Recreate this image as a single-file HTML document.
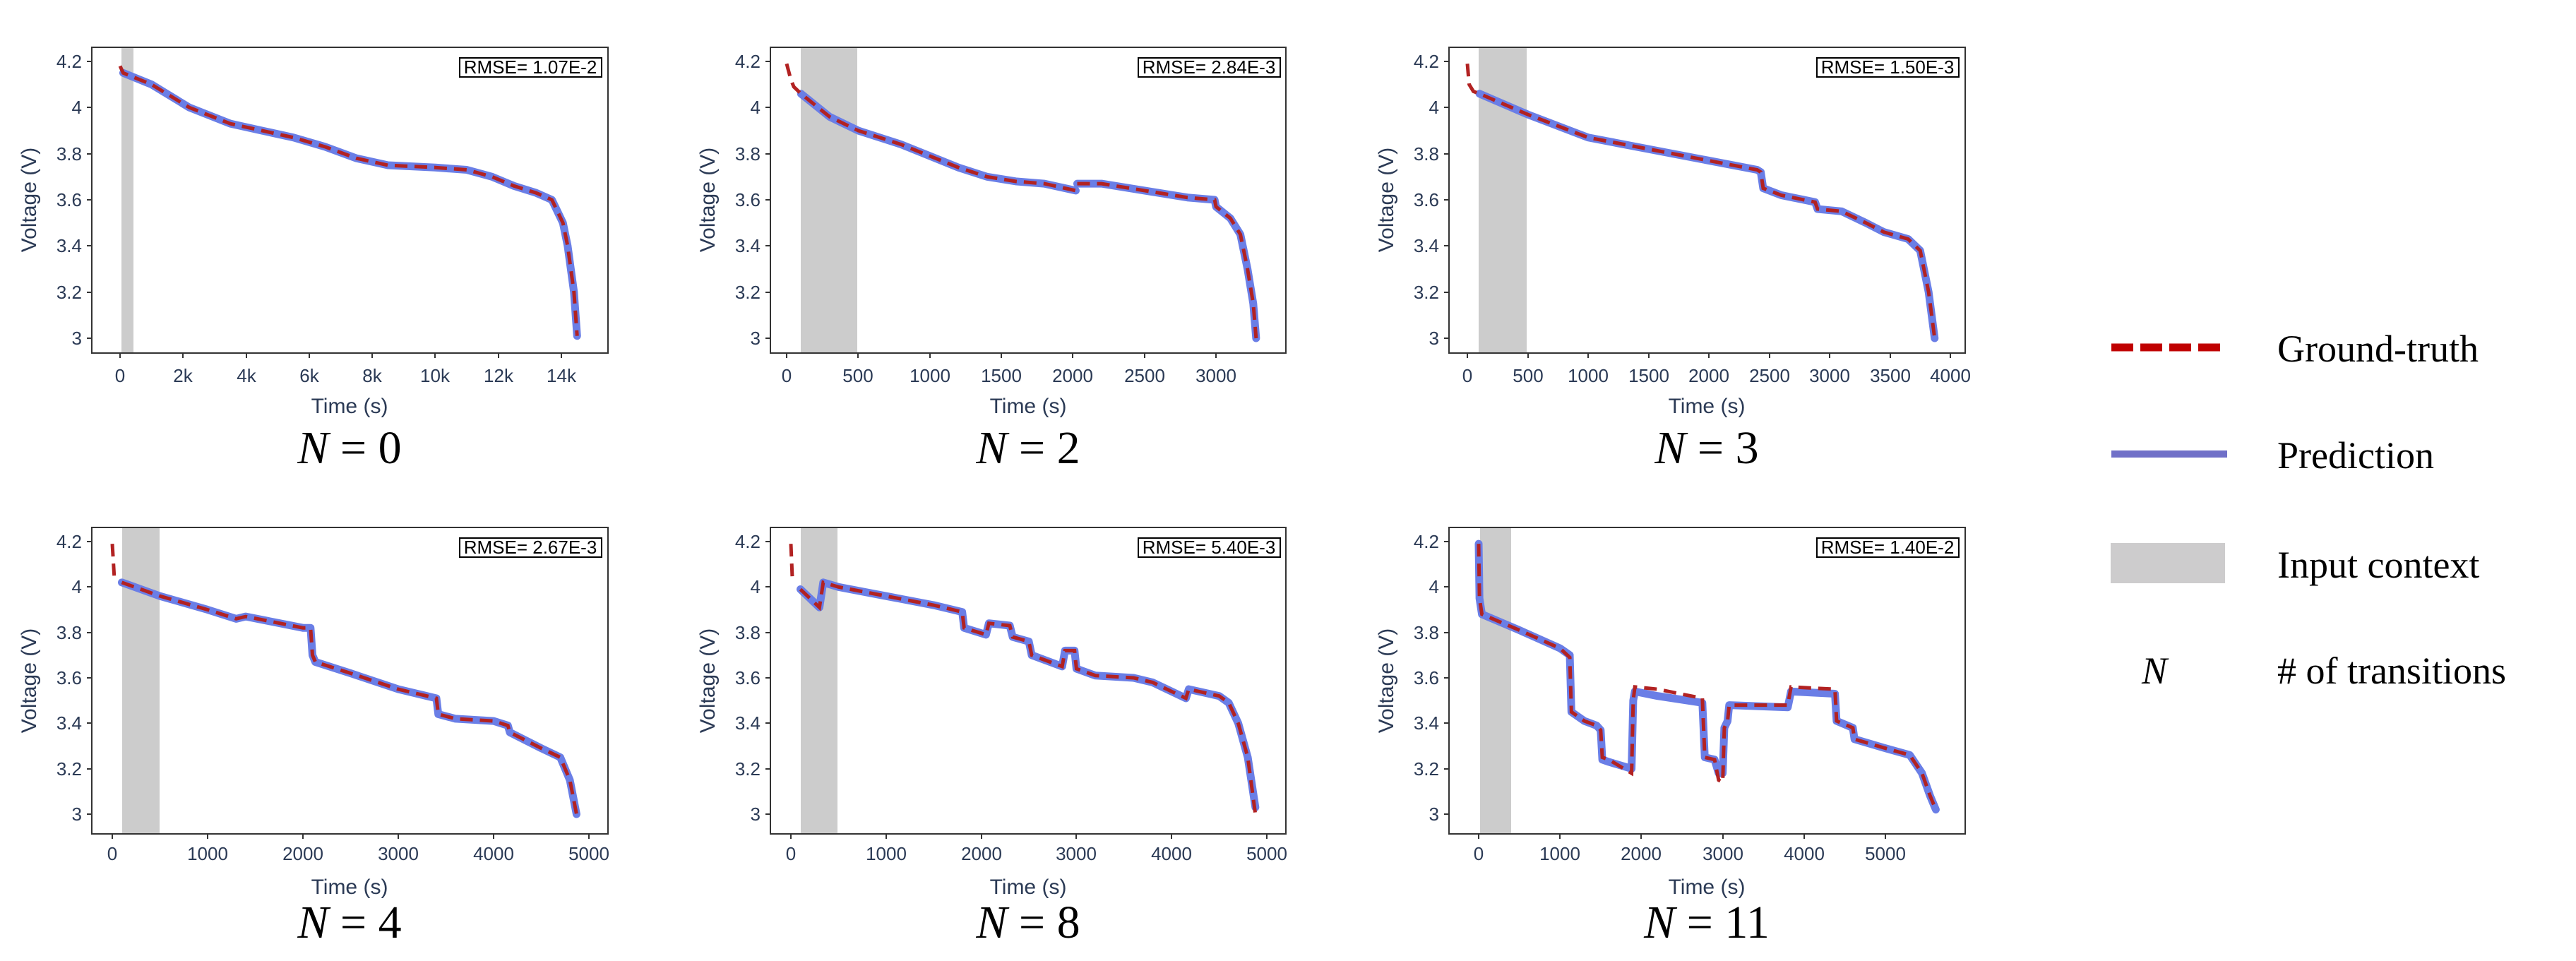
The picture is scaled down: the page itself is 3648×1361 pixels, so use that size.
<!DOCTYPE html>
<html><head><meta charset="utf-8"><style>
html,body{margin:0;padding:0;background:#fff;}
svg{display:block;}
.tk{font-family:"Liberation Sans",sans-serif;font-size:26px;fill:#2b3a55;}
.ax{font-family:"Liberation Sans",sans-serif;font-size:30px;fill:#2b3a55;}
.rm{font-family:"Liberation Sans",sans-serif;font-size:26px;fill:#000;}
.nn{font-family:"Liberation Serif",serif;font-size:66px;fill:#000;}
.lg{font-family:"Liberation Serif",serif;font-size:54px;fill:#000;}
.bl{fill:none;stroke:#6a7ee6;stroke-width:11;stroke-linejoin:round;stroke-linecap:round;vector-effect:non-scaling-stroke;}
.rd{fill:none;stroke:#b22222;stroke-width:5;stroke-dasharray:18 10;vector-effect:non-scaling-stroke;}
</style></head><body>
<svg width="3648" height="1361" viewBox="0 0 3648 1361" xmlns="http://www.w3.org/2000/svg">
<!-- ============ PANEL 1 ============ -->
<g>
<rect x="172" y="67" width="17" height="433" fill="#cccccc"/>
<g transform="translate(170,1459.1) scale(0.04464,-326.7)">
<polyline class="bl" points="100,4.15 1000,4.1 2200,4.0 3500,3.93 4500,3.9 5500,3.87 6500,3.83 7500,3.78 8500,3.75 10000,3.74 11000,3.73 11800,3.7 12500,3.66 13200,3.63 13700,3.6 14050,3.5 14200,3.4 14400,3.2 14500,3.01"/>
<polyline class="rd" points="0,4.18 100,4.15 1000,4.1 2200,4.0 3500,3.93 4500,3.9 5500,3.87 6500,3.83 7500,3.78 8500,3.75 10000,3.74 11000,3.73 11800,3.7 12500,3.66 13200,3.63 13700,3.6 14050,3.5 14200,3.4 14400,3.2 14500,3.01"/>
</g>
<rect x="130" y="67" width="731" height="433" fill="none" stroke="#333" stroke-width="2"/>
<g stroke="#333" stroke-width="2">
<line x1="123" y1="87" x2="130" y2="87"/><line x1="123" y1="152" x2="130" y2="152"/><line x1="123" y1="218" x2="130" y2="218"/><line x1="123" y1="283" x2="130" y2="283"/><line x1="123" y1="348" x2="130" y2="348"/><line x1="123" y1="414" x2="130" y2="414"/><line x1="123" y1="479" x2="130" y2="479"/>
<line x1="170" y1="500" x2="170" y2="507"/><line x1="259" y1="500" x2="259" y2="507"/><line x1="349" y1="500" x2="349" y2="507"/><line x1="438" y1="500" x2="438" y2="507"/><line x1="527" y1="500" x2="527" y2="507"/><line x1="616" y1="500" x2="616" y2="507"/><line x1="706" y1="500" x2="706" y2="507"/><line x1="795" y1="500" x2="795" y2="507"/>
</g>
<g class="tk" text-anchor="end"><text x="116" y="96">4.2</text><text x="116" y="161">4</text><text x="116" y="227">3.8</text><text x="116" y="292">3.6</text><text x="116" y="357">3.4</text><text x="116" y="423">3.2</text><text x="116" y="488">3</text></g>
<g class="tk" text-anchor="middle"><text x="170" y="541">0</text><text x="259" y="541">2k</text><text x="349" y="541">4k</text><text x="438" y="541">6k</text><text x="527" y="541">8k</text><text x="616" y="541">10k</text><text x="706" y="541">12k</text><text x="795" y="541">14k</text></g>
<text class="ax" x="495" y="585" text-anchor="middle">Time (s)</text>
<text class="ax" transform="translate(51,283) rotate(-90)" text-anchor="middle">Voltage (V)</text>
<rect x="651" y="82" width="201" height="27" fill="#fff" stroke="#000" stroke-width="2"/>
<text class="rm" x="751" y="104" text-anchor="middle">RMSE= 1.07E-2</text>
<text class="nn" x="495" y="656" text-anchor="middle"><tspan font-style="italic">N</tspan> = 0</text>
</g>
<!-- ============ PANEL 2 ============ -->
<g>
<rect x="1134" y="67" width="80" height="433" fill="#cccccc"/>
<g transform="translate(1114,1459.1) scale(0.2027,-326.7)">
<polyline class="bl" points="100,4.06 300,3.96 500,3.9 800,3.84 1000,3.79 1200,3.74 1400,3.70 1600,3.68 1800,3.67 2020,3.64"/>
<polyline class="bl" points="2030,3.67 2200,3.67 2500,3.64 2800,3.61 2990,3.6 3000,3.57 3100,3.52 3170,3.45 3220,3.3 3260,3.15 3280,3.0"/>
<polyline class="rd" points="0,4.19 30,4.12 50,4.09 100,4.06 300,3.96 500,3.9 800,3.84 1000,3.79 1200,3.74 1400,3.70 1600,3.68 1800,3.67 2020,3.64"/>
<polyline class="rd" points="2030,3.67 2200,3.67 2500,3.64 2800,3.61 2990,3.6 3000,3.57 3100,3.52 3170,3.45 3220,3.3 3260,3.15 3280,3.0"/>
</g>
<rect x="1091" y="67" width="730" height="433" fill="none" stroke="#333" stroke-width="2"/>
<g stroke="#333" stroke-width="2">
<line x1="1084" y1="87" x2="1091" y2="87"/><line x1="1084" y1="152" x2="1091" y2="152"/><line x1="1084" y1="218" x2="1091" y2="218"/><line x1="1084" y1="283" x2="1091" y2="283"/><line x1="1084" y1="348" x2="1091" y2="348"/><line x1="1084" y1="414" x2="1091" y2="414"/><line x1="1084" y1="479" x2="1091" y2="479"/>
<line x1="1114" y1="500" x2="1114" y2="507"/><line x1="1215" y1="500" x2="1215" y2="507"/><line x1="1317" y1="500" x2="1317" y2="507"/><line x1="1418" y1="500" x2="1418" y2="507"/><line x1="1519" y1="500" x2="1519" y2="507"/><line x1="1621" y1="500" x2="1621" y2="507"/><line x1="1722" y1="500" x2="1722" y2="507"/>
</g>
<g class="tk" text-anchor="end"><text x="1077" y="96">4.2</text><text x="1077" y="161">4</text><text x="1077" y="227">3.8</text><text x="1077" y="292">3.6</text><text x="1077" y="357">3.4</text><text x="1077" y="423">3.2</text><text x="1077" y="488">3</text></g>
<g class="tk" text-anchor="middle"><text x="1114" y="541">0</text><text x="1215" y="541">500</text><text x="1317" y="541">1000</text><text x="1418" y="541">1500</text><text x="1519" y="541">2000</text><text x="1621" y="541">2500</text><text x="1722" y="541">3000</text></g>
<text class="ax" x="1456" y="585" text-anchor="middle">Time (s)</text>
<text class="ax" transform="translate(1012,283) rotate(-90)" text-anchor="middle">Voltage (V)</text>
<rect x="1612" y="82" width="201" height="27" fill="#fff" stroke="#000" stroke-width="2"/>
<text class="rm" x="1712" y="104" text-anchor="middle">RMSE= 2.84E-3</text>
<text class="nn" x="1456" y="656" text-anchor="middle"><tspan font-style="italic">N</tspan> = 2</text>
</g>
<!-- ============ PANEL 3 ============ -->
<g>
<rect x="2094" y="67" width="68" height="433" fill="#cccccc"/>
<g transform="translate(2078,1459.1) scale(0.171,-326.7)">
<polyline class="bl" points="100,4.06 500,3.97 1000,3.87 1500,3.82 2000,3.77 2400,3.73 2430,3.72 2450,3.65 2600,3.62 2880,3.59 2900,3.56 3100,3.55 3300,3.50 3450,3.46 3650,3.43 3750,3.38 3820,3.2 3870,3.0"/>
<polyline class="rd" points="0,4.19 15,4.1 50,4.07 100,4.06 500,3.97 1000,3.87 1500,3.82 2000,3.77 2400,3.73 2430,3.72 2450,3.65 2600,3.62 2880,3.59 2900,3.56 3100,3.55 3300,3.50 3450,3.46 3650,3.43 3750,3.38 3820,3.2 3870,3.0"/>
</g>
<rect x="2052" y="67" width="731" height="433" fill="none" stroke="#333" stroke-width="2"/>
<g stroke="#333" stroke-width="2">
<line x1="2045" y1="87" x2="2052" y2="87"/><line x1="2045" y1="152" x2="2052" y2="152"/><line x1="2045" y1="218" x2="2052" y2="218"/><line x1="2045" y1="283" x2="2052" y2="283"/><line x1="2045" y1="348" x2="2052" y2="348"/><line x1="2045" y1="414" x2="2052" y2="414"/><line x1="2045" y1="479" x2="2052" y2="479"/>
<line x1="2078" y1="500" x2="2078" y2="507"/><line x1="2164" y1="500" x2="2164" y2="507"/><line x1="2249" y1="500" x2="2249" y2="507"/><line x1="2335" y1="500" x2="2335" y2="507"/><line x1="2420" y1="500" x2="2420" y2="507"/><line x1="2506" y1="500" x2="2506" y2="507"/><line x1="2591" y1="500" x2="2591" y2="507"/><line x1="2677" y1="500" x2="2677" y2="507"/><line x1="2762" y1="500" x2="2762" y2="507"/>
</g>
<g class="tk" text-anchor="end"><text x="2038" y="96">4.2</text><text x="2038" y="161">4</text><text x="2038" y="227">3.8</text><text x="2038" y="292">3.6</text><text x="2038" y="357">3.4</text><text x="2038" y="423">3.2</text><text x="2038" y="488">3</text></g>
<g class="tk" text-anchor="middle"><text x="2078" y="541">0</text><text x="2164" y="541">500</text><text x="2249" y="541">1000</text><text x="2335" y="541">1500</text><text x="2420" y="541">2000</text><text x="2506" y="541">2500</text><text x="2591" y="541">3000</text><text x="2677" y="541">3500</text><text x="2762" y="541">4000</text></g>
<text class="ax" x="2417" y="585" text-anchor="middle">Time (s)</text>
<text class="ax" transform="translate(1973,283) rotate(-90)" text-anchor="middle">Voltage (V)</text>
<rect x="2573" y="82" width="201" height="27" fill="#fff" stroke="#000" stroke-width="2"/>
<text class="rm" x="2673" y="104" text-anchor="middle">RMSE= 1.50E-3</text>
<text class="nn" x="2417" y="656" text-anchor="middle"><tspan font-style="italic">N</tspan> = 3</text>
</g>
<!-- ============ PANEL 4 ============ -->
<g>
<rect x="173" y="747" width="53" height="434" fill="#cccccc"/>
<g transform="translate(159,2118.1) scale(0.135,-321.7)">
<polyline class="bl" points="100,4.02 500,3.96 1000,3.90 1300,3.86 1400,3.87 2000,3.82 2080,3.82 2100,3.70 2130,3.67 2500,3.62 3000,3.55 3300,3.52 3400,3.51 3420,3.44 3600,3.42 4000,3.41 4150,3.39 4170,3.36 4500,3.29 4700,3.25 4800,3.15 4870,3.0"/>
<polyline class="rd" points="0,4.19 20,4.05"/>
<polyline class="rd" points="100,4.02 500,3.96 1000,3.90 1300,3.86 1400,3.87 2000,3.82 2080,3.82 2100,3.70 2130,3.67 2500,3.62 3000,3.55 3300,3.52 3400,3.51 3420,3.44 3600,3.42 4000,3.41 4150,3.39 4170,3.36 4500,3.29 4700,3.25 4800,3.15 4870,3.0"/>
</g>
<rect x="130" y="747" width="731" height="434" fill="none" stroke="#333" stroke-width="2"/>
<g stroke="#333" stroke-width="2">
<line x1="123" y1="767" x2="130" y2="767"/><line x1="123" y1="831" x2="130" y2="831"/><line x1="123" y1="896" x2="130" y2="896"/><line x1="123" y1="960" x2="130" y2="960"/><line x1="123" y1="1024" x2="130" y2="1024"/><line x1="123" y1="1089" x2="130" y2="1089"/><line x1="123" y1="1153" x2="130" y2="1153"/>
<line x1="159" y1="1181" x2="159" y2="1188"/><line x1="294" y1="1181" x2="294" y2="1188"/><line x1="429" y1="1181" x2="429" y2="1188"/><line x1="564" y1="1181" x2="564" y2="1188"/><line x1="699" y1="1181" x2="699" y2="1188"/><line x1="834" y1="1181" x2="834" y2="1188"/>
</g>
<g class="tk" text-anchor="end"><text x="116" y="776">4.2</text><text x="116" y="840">4</text><text x="116" y="905">3.8</text><text x="116" y="969">3.6</text><text x="116" y="1033">3.4</text><text x="116" y="1098">3.2</text><text x="116" y="1162">3</text></g>
<g class="tk" text-anchor="middle"><text x="159" y="1218">0</text><text x="294" y="1218">1000</text><text x="429" y="1218">2000</text><text x="564" y="1218">3000</text><text x="699" y="1218">4000</text><text x="834" y="1218">5000</text></g>
<text class="ax" x="495" y="1266" text-anchor="middle">Time (s)</text>
<text class="ax" transform="translate(51,964) rotate(-90)" text-anchor="middle">Voltage (V)</text>
<rect x="651" y="762" width="201" height="27" fill="#fff" stroke="#000" stroke-width="2"/>
<text class="rm" x="751" y="784" text-anchor="middle">RMSE= 2.67E-3</text>
<text class="nn" x="495" y="1328" text-anchor="middle"><tspan font-style="italic">N</tspan> = 4</text>
</g>
<!-- ============ PANEL 5 ============ -->
<g>
<rect x="1134" y="747" width="52" height="434" fill="#cccccc"/>
<g transform="translate(1120,2118.1) scale(0.1348,-321.7)">
<polyline class="bl" points="100,3.99 300,3.91 340,4.02 500,4.0 1000,3.96 1500,3.92 1800,3.89 1820,3.82 2050,3.79 2080,3.84 2300,3.83 2330,3.78 2500,3.76 2530,3.70 2850,3.65 2880,3.72 2980,3.72 3000,3.64 3200,3.61 3600,3.60 3800,3.58 4150,3.51 4180,3.55 4500,3.52 4600,3.49 4700,3.4 4800,3.25 4880,3.03"/>
<polyline class="rd" points="0,4.19 15,4.04"/>
<polyline class="rd" points="100,3.99 300,3.91 340,4.02 500,4.0 1000,3.96 1500,3.92 1800,3.89 1820,3.82 2050,3.79 2080,3.84 2300,3.83 2330,3.78 2500,3.76 2530,3.70 2850,3.65 2880,3.72 2980,3.72 3000,3.64 3200,3.61 3600,3.60 3800,3.58 4150,3.51 4180,3.55 4500,3.52 4600,3.49 4700,3.4 4800,3.25 4880,3.0"/>
</g>
<rect x="1091" y="747" width="730" height="434" fill="none" stroke="#333" stroke-width="2"/>
<g stroke="#333" stroke-width="2">
<line x1="1084" y1="767" x2="1091" y2="767"/><line x1="1084" y1="831" x2="1091" y2="831"/><line x1="1084" y1="896" x2="1091" y2="896"/><line x1="1084" y1="960" x2="1091" y2="960"/><line x1="1084" y1="1024" x2="1091" y2="1024"/><line x1="1084" y1="1089" x2="1091" y2="1089"/><line x1="1084" y1="1153" x2="1091" y2="1153"/>
<line x1="1120" y1="1181" x2="1120" y2="1188"/><line x1="1255" y1="1181" x2="1255" y2="1188"/><line x1="1390" y1="1181" x2="1390" y2="1188"/><line x1="1524" y1="1181" x2="1524" y2="1188"/><line x1="1659" y1="1181" x2="1659" y2="1188"/><line x1="1794" y1="1181" x2="1794" y2="1188"/>
</g>
<g class="tk" text-anchor="end"><text x="1077" y="776">4.2</text><text x="1077" y="840">4</text><text x="1077" y="905">3.8</text><text x="1077" y="969">3.6</text><text x="1077" y="1033">3.4</text><text x="1077" y="1098">3.2</text><text x="1077" y="1162">3</text></g>
<g class="tk" text-anchor="middle"><text x="1120" y="1218">0</text><text x="1255" y="1218">1000</text><text x="1390" y="1218">2000</text><text x="1524" y="1218">3000</text><text x="1659" y="1218">4000</text><text x="1794" y="1218">5000</text></g>
<text class="ax" x="1456" y="1266" text-anchor="middle">Time (s)</text>
<text class="ax" transform="translate(1012,964) rotate(-90)" text-anchor="middle">Voltage (V)</text>
<rect x="1612" y="762" width="201" height="27" fill="#fff" stroke="#000" stroke-width="2"/>
<text class="rm" x="1712" y="784" text-anchor="middle">RMSE= 5.40E-3</text>
<text class="nn" x="1456" y="1328" text-anchor="middle"><tspan font-style="italic">N</tspan> = 8</text>
</g>
<!-- ============ PANEL 6 ============ -->
<g>
<rect x="2096" y="747" width="44" height="434" fill="#cccccc"/>
<g transform="translate(2094,2118.1) scale(0.1152,-321.7)">
<polyline class="bl" points="0,4.19 10,3.95 40,3.88 500,3.81 1000,3.73 1120,3.70 1140,3.45 1300,3.41 1450,3.39 1500,3.37 1520,3.24 1600,3.23 1880,3.20 1900,3.5 1920,3.54 2200,3.52 2750,3.49 2780,3.25 2900,3.24 2950,3.18 3000,3.18 3020,3.38 3060,3.41 3080,3.48 3800,3.47 3840,3.54 4380,3.53 4400,3.41 4600,3.38 4620,3.33 5000,3.29 5300,3.26 5450,3.18 5550,3.08 5620,3.02"/>
<polyline class="rd" points="0,4.19 10,3.95 40,3.88 500,3.81 1000,3.73 1120,3.69 1140,3.45 1300,3.41 1450,3.39 1500,3.37 1520,3.25 1600,3.24 1880,3.18 1900,3.5 1920,3.56 2200,3.55 2750,3.51 2780,3.25 2900,3.24 2950,3.15 3000,3.14 3020,3.38 3060,3.41 3080,3.48 3800,3.48 3840,3.56 4380,3.55 4400,3.41 4600,3.38 4620,3.33 5000,3.29 5300,3.26 5450,3.18 5550,3.08 5620,3.02"/>
</g>
<rect x="2052" y="747" width="731" height="434" fill="none" stroke="#333" stroke-width="2"/>
<g stroke="#333" stroke-width="2">
<line x1="2045" y1="767" x2="2052" y2="767"/><line x1="2045" y1="831" x2="2052" y2="831"/><line x1="2045" y1="896" x2="2052" y2="896"/><line x1="2045" y1="960" x2="2052" y2="960"/><line x1="2045" y1="1024" x2="2052" y2="1024"/><line x1="2045" y1="1089" x2="2052" y2="1089"/><line x1="2045" y1="1153" x2="2052" y2="1153"/>
<line x1="2094" y1="1181" x2="2094" y2="1188"/><line x1="2209" y1="1181" x2="2209" y2="1188"/><line x1="2324" y1="1181" x2="2324" y2="1188"/><line x1="2440" y1="1181" x2="2440" y2="1188"/><line x1="2555" y1="1181" x2="2555" y2="1188"/><line x1="2670" y1="1181" x2="2670" y2="1188"/>
</g>
<g class="tk" text-anchor="end"><text x="2038" y="776">4.2</text><text x="2038" y="840">4</text><text x="2038" y="905">3.8</text><text x="2038" y="969">3.6</text><text x="2038" y="1033">3.4</text><text x="2038" y="1098">3.2</text><text x="2038" y="1162">3</text></g>
<g class="tk" text-anchor="middle"><text x="2094" y="1218">0</text><text x="2209" y="1218">1000</text><text x="2324" y="1218">2000</text><text x="2440" y="1218">3000</text><text x="2555" y="1218">4000</text><text x="2670" y="1218">5000</text></g>
<text class="ax" x="2417" y="1266" text-anchor="middle">Time (s)</text>
<text class="ax" transform="translate(1973,964) rotate(-90)" text-anchor="middle">Voltage (V)</text>
<rect x="2573" y="762" width="201" height="27" fill="#fff" stroke="#000" stroke-width="2"/>
<text class="rm" x="2673" y="784" text-anchor="middle">RMSE= 1.40E-2</text>
<text class="nn" x="2417" y="1328" text-anchor="middle"><tspan font-style="italic">N</tspan> = 11</text>
</g>
<!-- ============ LEGEND ============ -->
<g>
<line x1="2990" y1="492" x2="3150" y2="492" stroke="#c00000" stroke-width="11" stroke-dasharray="31 10"/>
<text class="lg" x="3225" y="512">Ground-truth</text>
<line x1="2990" y1="643" x2="3154" y2="643" stroke="#7070c8" stroke-width="10"/>
<text class="lg" x="3225" y="663">Prediction</text>
<rect x="2989" y="769" width="162" height="57" fill="#cdcccd"/>
<text class="lg" x="3225" y="818">Input context</text>
<text class="lg" x="3051" y="968" text-anchor="middle" font-style="italic">N</text>
<text class="lg" x="3225" y="968"># of transitions</text>
</g>
</svg>
</body></html>
